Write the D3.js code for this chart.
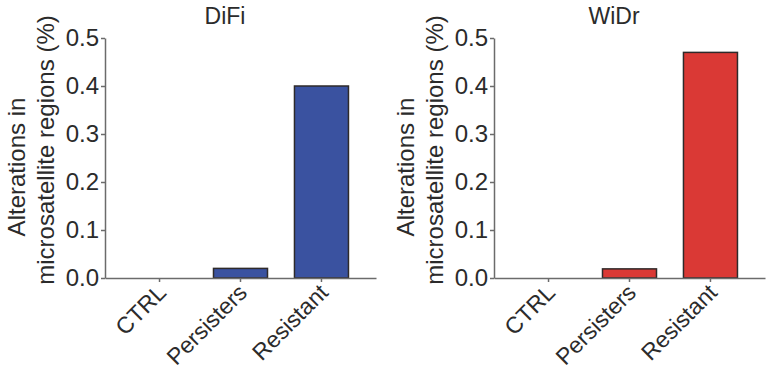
<!DOCTYPE html>
<html>
<head>
<meta charset="utf-8">
<script src="https://cdn.jsdelivr.net/npm/d3@7"></script>
<style>
    body { margin: 0; background: #fff; }
    text { font-family: "Liberation Sans", Arial, sans-serif; fill: #2b2b2b; }
    .axis path, .axis line { stroke: #6b6b6b; stroke-width: 1.5; }
</style>
</head>
<body>
<svg id="chart" width="769" height="372"></svg>
<script>
"use strict";

const categories = ["CTRL", "Persisters", "Resistant"];
const difiValues = [0, 0.02, 0.40];
const widrValues = [0, 0.019, 0.47];
const yTicks = [0, 0.1, 0.2, 0.3, 0.4, 0.5];
const panelTitles = ["DiFi", "WiDr"];
const panelColors = ["#3a52a0", "#da3935"];
const yLabelLines = ["Alterations in", "microsatellite regions (%)"];

const svg = d3.select("#chart");

function drawPanel(offsetX, title, values, color) {
    const g = svg.append("g").attr("transform", `translate(${offsetX},0)`);

    const x = d3.scaleBand()
        .domain(categories)
        .range([105, 376])
        .paddingInner(0.333)
        .paddingOuter(0.34);
    const y = d3.scaleLinear()
        .domain([0, 0.5])
        .range([278, 38]);
    const valueOf = (d) => values[categories.indexOf(d)];

    // bars (CTRL is zero, nothing drawn)
    g.selectAll("rect.bar")
        .data(categories.filter((d) => valueOf(d) > 0))
        .enter()
        .append("rect")
        .attr("class", "bar")
        .attr("x", (d) => x(d))
        .attr("width", x.bandwidth())
        .attr("y", (d) => y(valueOf(d)))
        .attr("height", (d) => y(0) - y(valueOf(d)))
        .attr("fill", color)
        .attr("stroke", "#2e2a2a")
        .attr("stroke-width", 1.5);

    const yAxis = d3.axisLeft(y)
        .tickValues(yTicks)
        .tickFormat(d3.format(".1f"))
        .tickSize(4)
        .tickSizeOuter(0)
        .tickPadding(2);
    g.append("g")
        .attr("class", "axis y_axis")
        .attr("transform", "translate(105,0)")
        .call(yAxis)
        .selectAll("text")
        .style("font-size", "24px");

    const xAxis = d3.axisBottom(x)
        .tickSize(4)
        .tickSizeOuter(0)
        .tickFormat("");
    g.append("g")
        .attr("class", "axis x_axis")
        .attr("transform", "translate(0,278)")
        .call(xAxis);

    g.selectAll("text.xlabel")
        .data(categories)
        .enter()
        .append("text")
        .attr("class", "xlabel")
        .attr("text-anchor", "end")
        .attr("transform", (d) => `translate(${x(d) + x.bandwidth() / 2 + 8},${294}) rotate(-45)`)
        .style("font-size", "23px")
        .text((d) => d);

    g.append("text")
        .attr("text-anchor", "middle")
        .attr("x", 225)
        .attr("y", 24)
        .style("font-size", "23px")
        .text(title);

    g.append("text")
        .attr("text-anchor", "middle")
        .attr("transform", "translate(25,167) rotate(-90)")
        .style("font-size", "24px")
        .text(yLabelLines[0]);
    g.append("text")
        .attr("text-anchor", "middle")
        .attr("transform", "translate(54,150) rotate(-90)")
        .style("font-size", "24px")
        .text(yLabelLines[1]);
}

drawPanel(0, panelTitles[0], difiValues, panelColors[0]);
drawPanel(389, panelTitles[1], widrValues, panelColors[1]);
</script>
</body>
</html>
